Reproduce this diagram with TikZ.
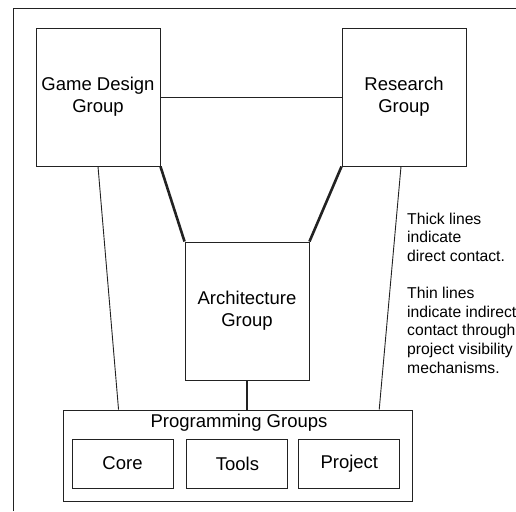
\documentclass[tikz,border=0pt]{standalone}
\usepackage{fontspec}
\setmainfont{Liberation Sans}
\usetikzlibrary{positioning,calc}
\definecolor{Ink}{HTML}{222222}
\tikzset{
 group/.style={draw=Ink, line width=0.9pt, minimum width=124pt, minimum height=138pt, inner sep=0pt, align=center, font=\fontsize{18.5}{22}\selectfont},
 subgroup/.style={draw=Ink, line width=0.9pt, minimum width=101pt, minimum height=49pt, inner sep=0pt, font=\fontsize{18.5}{22}\selectfont},
 note/.style={inner sep=0pt, align=left, anchor=north west, font=\fontsize{15.7}{18.7}\selectfont},
 direct/.style={draw=Ink, line width=2.6pt},
 indirect/.style={draw=Ink, line width=0.9pt}
}

\begin{document}
\begin{tikzpicture}[x=1pt,y=-1pt]
\useasboundingbox (0,0) rectangle (516,511);
\draw[Ink, line width=0.9pt] (13,511) -- (13,8) -- (516,8);
\node[group] (gd) at (98,97) {Game Design\\Group};
\node[group] (rs) at (404,97) {Research\\Group};
\node[group] (arch) at (247,311) {Architecture\\Group};
\node[draw=Ink, line width=0.9pt, minimum width=349pt, minimum height=91pt, inner sep=0pt] (prog) at (237.5,455.5) {};
\node[font=\fontsize{18.5}{22}\selectfont, inner sep=0pt] (progtitle) at (239,423) {Programming Groups};
\node[subgroup] (core) at (122.5,463.5) {Core};
\node[subgroup, right=13pt of core] (tools) {Tools};
\node[subgroup, right=10pt of tools] (project) {Project};
% contact lines
\draw[indirect] (gd.east) -- (rs.west);
\draw[direct] (gd.south east) -- (arch.north west);
\draw[direct] (rs.south west) -- (arch.north east);
\draw[direct] (arch.south) -- (arch.south |- prog.north);
\draw[indirect] (gd.south) -- ($(prog.north west)!0.16!(prog.north east)$);
\draw[indirect] ([xshift=-3pt]rs.south) -- ($(prog.north west)!0.905!(prog.north east)$);
% legend
\node[note] (thick) at (407,212.6) {Thick lines\\indicate\\direct contact.};
\node[note] (thin) at (407,287) {Thin lines\\indicate indirect\\contact through\\project visibility\\mechanisms.};
\end{tikzpicture}
\end{document}
